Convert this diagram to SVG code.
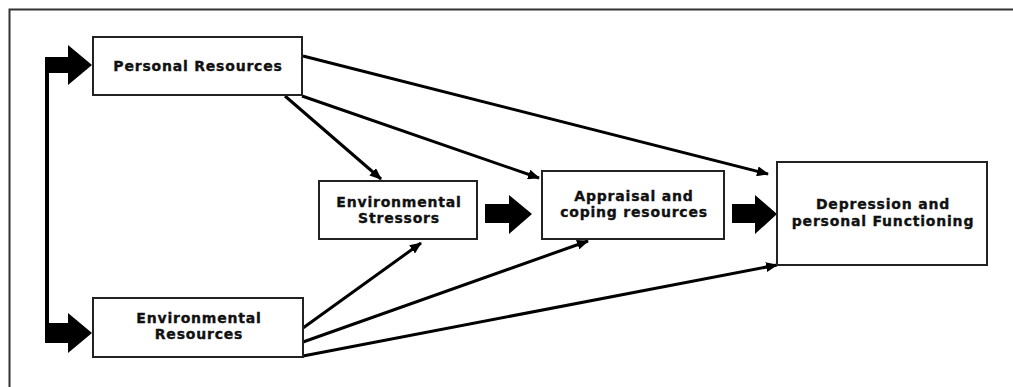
<svg xmlns="http://www.w3.org/2000/svg" width="1013" height="387" viewBox="0 0 1013 387">
<defs>
<marker id="ah" markerWidth="12" markerHeight="10" refX="11" refY="5" orient="auto" markerUnits="userSpaceOnUse">
<path d="M0,0 L12,5 L0,10 Z" fill="#000"/>
</marker>
<style>
.box{fill:#fff;stroke:#222;stroke-width:2}
.t{font-family:"DejaVu Sans",sans-serif;font-weight:bold;font-size:14px;letter-spacing:0.8px;fill:#111;stroke:#111;stroke-width:0.35;text-anchor:middle}
.ln{stroke:#000;stroke-width:3;fill:none;marker-end:url(#ah)}
.fat{fill:#000}
</style>
</defs>
<rect x="0" y="0" width="1013" height="387" fill="#fff"/>
<path d="M9.5,387 V9.5 H1013" fill="none" stroke="#333" stroke-width="2"/>
<g id="connectors">
<path class="fat" d="M45,57 H68 V45 L92,65 L68,85 V73 H49 V323 H68 V313 L92,333 L68,353 V343 H45 Z"/>
<path class="fat" d="M485,204 H509 V195 L532,214 L509,234 V223 H485 Z"/>
<path class="fat" d="M732,204 H755 V195 L777,214 L755,234 V223 H732 Z"/>
<line class="ln" x1="303" y1="56" x2="768" y2="174"/>
<line class="ln" x1="302" y1="96" x2="539" y2="178"/>
<line class="ln" x1="285" y1="96" x2="381" y2="179"/>
<line class="ln" x1="303" y1="328" x2="421" y2="243"/>
<line class="ln" x1="303" y1="342" x2="588" y2="241"/>
<line class="ln" x1="303" y1="356" x2="777" y2="265"/>
</g>
<g id="personal-resources">
<rect class="box" x="93" y="37" width="209" height="58"/>
<text class="t" x="198" y="71">Personal Resources</text>
</g>
<g id="environmental-resources">
<rect class="box" x="93" y="298" width="210" height="59"/>
<text class="t" x="199" y="323">Environmental</text>
<text class="t" x="199" y="339">Resources</text>
</g>
<g id="environmental-stressors">
<rect class="box" x="319" y="181" width="158" height="58"/>
<text class="t" x="399" y="207">Environmental</text>
<text class="t" x="399" y="223">Stressors</text>
</g>
<g id="appraisal">
<rect class="box" x="542" y="171" width="182" height="68"/>
<text class="t" x="634" y="201">Appraisal and</text>
<text class="t" x="634" y="217">coping resources</text>
</g>
<g id="depression">
<rect class="box" x="777" y="162" width="210" height="103"/>
<text class="t" x="883" y="209">Depression and</text>
<text class="t" x="883" y="226">personal Functioning</text>
</g>
</svg>
